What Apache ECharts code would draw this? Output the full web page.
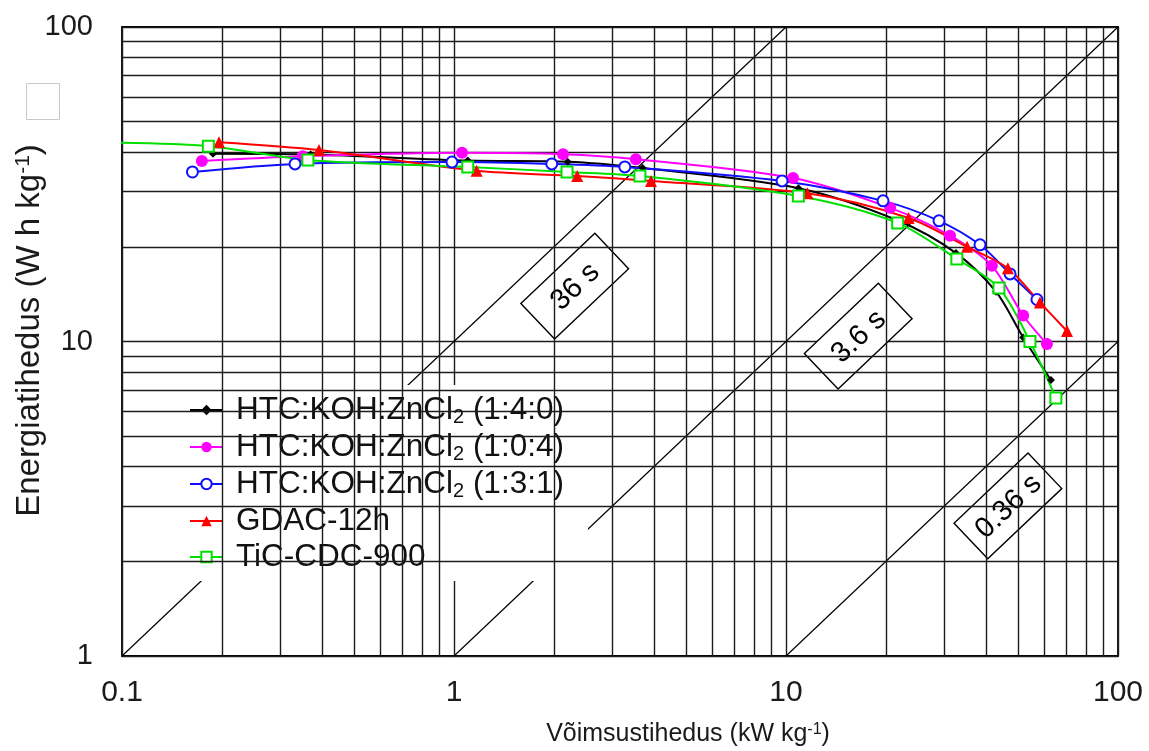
<!DOCTYPE html>
<html>
<head>
<meta charset="utf-8">
<script src="https://cdn.jsdelivr.net/npm/echarts@6/dist/echarts.min.js"></script>
<style>
  html, body { margin: 0; padding: 0; background: #fff; }
  #chart { width: 1149px; height: 751px; }
</style>
</head>
<body>
<div id="chart"></div>
<script>
// Ragone plot: energy density vs power density, log-log
const FONT = '"Liberation Sans", Arial, sans-serif';

// Tick values
const xTicks = [0.1, 1, 10, 100];
const yTicks = [1, 10, 100];
const xMinor = [0.2, 0.3, 0.4, 0.5, 0.6, 0.7, 0.8, 0.9, 2, 3, 4, 5, 6, 7, 8, 9, 20, 30, 40, 50, 60, 70, 80, 90];
const yMinor = [2, 3, 4, 5, 6, 7, 8, 9, 20, 30, 40, 50, 60, 70, 80, 90];

// Series: [power density kW/kg, energy density Wh/kg]
const names = [
  'HTC:KOH:ZnCl2 (1:4:0)',
  'HTC:KOH:ZnCl2 (1:0:4)',
  'HTC:KOH:ZnCl2 (1:3:1)',
  'GDAC-12h',
  'TiC-CDC-900'
];
const htc140 = [[0.188, 39.5], [0.37, 39.3], [1.1, 37.6], [2.2, 37.3], [3.7, 35.6], [10.9, 30.7], [21.8, 24.2], [32.5, 19.1], [42.9, 14.4], [51.8, 10.3], [62.8, 7.54]];
const htc104 = [[0.174, 37.5], [0.35, 38.8], [1.057, 39.8], [2.13, 39.4], [3.53, 38.0], [10.5, 33.1], [20.6, 26.6], [31.2, 21.7], [41.7, 17.4], [51.8, 12.1], [61.1, 9.82]];
const htc131 = [[0.163, 34.6], [0.332, 36.7], [0.986, 37.2], [1.97, 36.7], [3.27, 35.9], [9.73, 32.4], [19.6, 28.0], [28.9, 24.2], [38.4, 20.3], [47.3, 16.4], [57.0, 13.6]];
const gdac = [[0.196, 43.0], [0.392, 40.6], [1.17, 34.9], [2.35, 33.6], [3.92, 32.4], [11.6, 29.6], [23.4, 24.7], [35.1, 20.0], [46.6, 17.1], [58.2, 13.3], [70.2, 10.8]];
const ticCdc = [[0.09, 42.9], [0.182, 41.8], [0.363, 37.8], [1.10, 35.9], [2.19, 34.6], [3.63, 33.6], [10.9, 29.0], [21.7, 23.8], [32.7, 18.3], [43.8, 14.8], [54.3, 10.0], [65.0, 6.61]];

// Constant time-constant lines (t = 3.6 * E / P seconds)
const timeLabels = ['36 s', '3.6 s', '0.36 s'];
const timeLines = [
  [[0.1, 1], [10, 100]],
  [[1, 1], [100, 100]],
  [[10, 1], [100, 10]]
];
const timeLabelPos = [[2.31, 15.0], [16.5, 10.4], [46.6, 3.0]];

const colors = ['#000000', '#ff00ff', '#1010ff', '#ff0000', '#00e000'];
const symbols = ['diamond', 'circle', 'emptyCircle', 'triangle', 'emptyRect'];
const symbolSizes = [8, 12, 11, 12, 11];
const seriesData = [htc140, htc104, htc131, gdac, ticCdc];

const gridColor = '#1c1c1c';
const gridWidth = 1.4;

const series = [];

// Minor log grid lines
series.push({
  type: 'line',
  data: [],
  silent: true,
  animation: false,
  markLine: {
    silent: true,
    animation: false,
    symbol: ['none', 'none'],
    label: { show: false },
    lineStyle: { color: gridColor, width: gridWidth, type: 'solid' },
    emphasis: { disabled: true },
    data: xMinor.map(v => ({ xAxis: v })).concat(yMinor.map(v => ({ yAxis: v })))
  }
});

// Diagonal time-constant lines
timeLines.forEach(d => {
  series.push({
    type: 'line',
    data: d,
    silent: true,
    symbol: 'none',
    lineStyle: { color: '#000', width: 1.2 },
    animation: false
  });
});

// Data series
seriesData.forEach((d, i) => {
  series.push({
    name: names[i],
    type: 'line',
    data: d,
    smooth: 0.3,
    symbol: symbols[i],
    symbolSize: symbolSizes[i],
    showAllSymbol: true,
    z: 5,
    clip: true,
    lineStyle: { color: colors[i], width: 2 },
    itemStyle: { color: colors[i], borderColor: colors[i], borderWidth: symbols[i].startsWith('empty') ? 1.6 : 0 },
    animation: false
  });
});

const chart = echarts.init(document.getElementById('chart'), null, { renderer: 'canvas' });

chart.setOption({
  backgroundColor: '#fff',
  animation: false,
  grid: {
    left: 122, right: 31, top: 27, bottom: 95,
    outerBoundsMode: 'none',
    containLabel: false,
    show: true, borderColor: '#000', borderWidth: 1.8, backgroundColor: 'transparent'
  },
  xAxis: {
    type: 'log',
    logBase: 10,
    min: xTicks[0],
    max: xTicks[xTicks.length - 1],
    name: 'Võimsustihedus (kW kg{p|-1})',
    nameLocation: 'middle',
    nameGap: 66,
    nameMoveOverlap: false,
    nameTextStyle: {
      fontFamily: FONT, fontSize: 25, color: '#1a1a1a',
      padding: [0, 0, 0, 136],
      rich: { p: { fontFamily: FONT, fontSize: 16, color: '#1a1a1a', verticalAlign: 'top', lineHeight: 16 } }
    },
    axisLine: { show: false },
    axisTick: { show: false },
    splitLine: { show: true, lineStyle: { color: gridColor, width: gridWidth } },
    axisLabel: {
      fontFamily: FONT, fontSize: 30, color: '#1a1a1a', margin: 22,
      formatter: v => String(+v.toPrecision(3))
    }
  },
  yAxis: {
    type: 'log',
    logBase: 10,
    min: yTicks[0],
    max: yTicks[yTicks.length - 1],
    name: 'Energiatihedus (W h kg{p|-1})',
    nameLocation: 'middle',
    nameGap: 76,
    nameMoveOverlap: false,
    nameTextStyle: {
      fontFamily: FONT, fontSize: 33, color: '#1a1a1a',
      padding: [0, 0, 0, 22],
      rich: { p: { fontFamily: FONT, fontSize: 21, color: '#1a1a1a', verticalAlign: 'top', lineHeight: 21 } }
    },
    axisLine: { show: false },
    axisTick: { show: false },
    splitLine: { show: true, lineStyle: { color: gridColor, width: gridWidth } },
    axisLabel: {
      fontFamily: FONT, fontSize: 29, color: '#1a1a1a', margin: 29,
      formatter: v => String(+v.toPrecision(3))
    }
  },
  legend: {
    data: names,
    orient: 'vertical',
    left: 165,
    top: 385,
    padding: [9, 24, 8, 24],
    backgroundColor: '#fff',
    itemWidth: 33,
    itemHeight: 13,
    itemGap: 4,
    selectedMode: false,
    textStyle: {
      fontFamily: FONT, fontSize: 31, color: '#111',
      rich: {
        g: { width: 8 },
        t: { fontFamily: FONT, fontSize: 31.5, color: '#111', lineHeight: 34 },
        s: { fontFamily: FONT, fontSize: 20, color: '#111', lineHeight: 20, verticalAlign: 'bottom' }
      }
    },
    formatter: name => {
      const m = name.match(/^(HTC:KOH:ZnCl)2 (.*)$/);
      if (m) return '{g|}{t|' + m[1] + '}{s|2}{t| ' + m[2] + '}';
      return '{g|}{t|' + name + '}';
    }
  },
  series: series
});

// Boxed time-constant labels, placed at data coordinates and rotated along the diagonals
const angle = 43.5 * Math.PI / 180;
const boxes = timeLabelPos.map((pos, i) => {
  const pt = chart.convertToPixel({ gridIndex: 0 }, pos);
  return {
    type: 'group',
    x: pt[0],
    y: pt[1],
    rotation: angle,
    z: 3,
    silent: true,
    children: [
      {
        type: 'rect',
        shape: { x: -51, y: -24.5, width: 102, height: 49 },
        style: { fill: '#fff', stroke: '#000', lineWidth: 1.4 }
      },
      {
        type: 'text',
        x: 0,
        y: 1,
        style: {
          text: timeLabels[i],
          fill: '#000',
          font: '29px ' + FONT,
          align: 'center',
          verticalAlign: 'middle'
        }
      }
    ]
  };
});

chart.setOption({
  graphic: [{
    type: 'rect',
    left: 24, top: 81,
    shape: { width: 33, height: 36 },
    style: { fill: 'none', stroke: '#c8c8c8', lineWidth: 1 },
    silent: true
  }].concat(boxes)
});
</script>
</body>
</html>
